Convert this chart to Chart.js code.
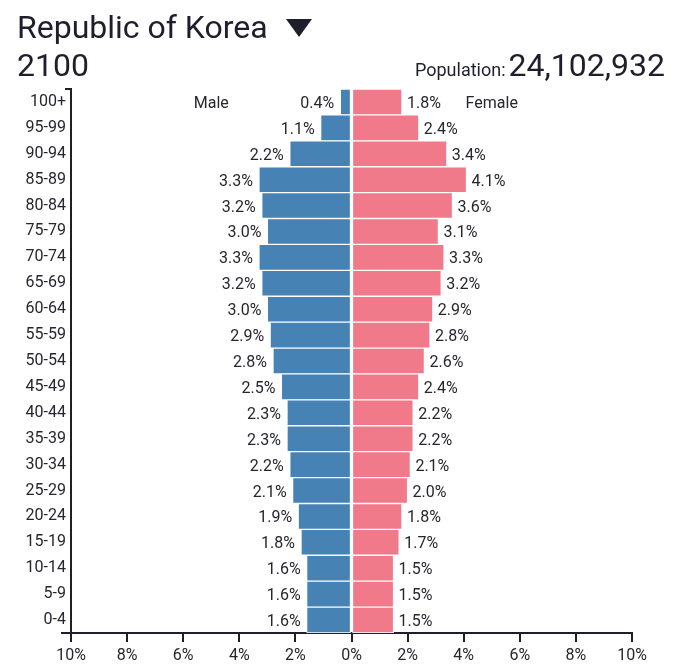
<!DOCTYPE html>
<html>
<head>
<meta charset="utf-8">
<script src="https://cdn.jsdelivr.net/npm/chart.js@4.4.1/dist/chart.umd.min.js"></script>
<style>
  html, body { margin: 0; padding: 0; background: #fff; }
  #wrap { position: relative; width: 680px; height: 671px; font-family: Roboto, sans-serif; color: #1e1e2c; }
  #chart { position: absolute; left: 0; top: 0; }
  .hdr { position: absolute; white-space: nowrap; line-height: 1; }
  #title { left: 17px; top: 11px; font-size: 32px; }
  #title .tri { display: inline-block; width: 0; height: 0; margin-left: 18px; vertical-align: top; margin-top: 8px;
    border-left: 13.5px solid transparent; border-right: 13.5px solid transparent; border-top: 18px solid #1e1e2c; }
  #year { left: 17px; top: 49px; font-size: 32px; }
  #pop { right: 15px; top: 49px; font-size: 32px; }
  #pop .lbl { font-size: 18px; margin-right: 3px; }
</style>
</head>
<body>
<div id="wrap">
  <canvas id="chart" width="680" height="671"></canvas>
  <div class="hdr" id="title">Republic of Korea<span class="tri"></span></div>
  <div class="hdr" id="year">2100</div>
  <div class="hdr" id="pop"><span class="lbl">Population:</span>24,102,932</div>
</div>
<script>
// Age groups, top row first
const ageGroups = ['100+', '95-99', '90-94', '85-89', '80-84', '75-79', '70-74', '65-69', '60-64', '55-59',
  '50-54', '45-49', '40-44', '35-39', '30-34', '25-29', '20-24', '15-19', '10-14', '5-9', '0-4']

// Share of total population (%)
const malePct = [0.4, 1.1, 2.2, 3.3, 3.2, 3.0, 3.3, 3.2, 3.0, 2.9, 2.8, 2.5, 2.3, 2.3, 2.2, 2.1, 1.9, 1.8, 1.6, 1.6, 1.6]
const femalePct = [1.8, 2.4, 3.4, 4.1, 3.6, 3.1, 3.3, 3.2, 2.9, 2.8, 2.6, 2.4, 2.2, 2.2, 2.1, 2.0, 1.8, 1.7, 1.5, 1.5, 1.5]

const xTicks = [-10, -8, -6, -4, -2, 0, 2, 4, 6, 8, 10]

const AXIS = '#1e1e2c'
const TEXT = '#26262e'
const FONT = 'Roboto, sans-serif'

// Value labels at the bar ends, plus Male / Female captions and axis extras
const pyramidLabels = {
  id: 'pyramidLabels',
  afterDatasetsDraw(chart) {
    const { ctx, chartArea, scales } = chart
    ctx.save()
    ctx.font = '16px ' + FONT
    ctx.fillStyle = TEXT
    ctx.textBaseline = 'middle'

    chart.getDatasetMeta(0).data.forEach((bar, i) => {
      ctx.textAlign = 'right'
      ctx.fillText(malePct[i].toFixed(1) + '%', bar.x - 6, bar.y + 2)
    })
    chart.getDatasetMeta(1).data.forEach((bar, i) => {
      ctx.textAlign = 'left'
      ctx.fillText(femalePct[i].toFixed(1) + '%', bar.x + 5, bar.y + 2)
    })

    // captions in the top row
    const topY = scales.y.getPixelForValue(0) + 2
    ctx.textAlign = 'center'
    ctx.fillText('Male', scales.x.getPixelForValue(-5), topY)
    ctx.fillText('Female', scales.x.getPixelForValue(5), topY)

    // outer ticks of the axes
    ctx.strokeStyle = AXIS
    ctx.lineWidth = 2
    ctx.beginPath()
    ctx.moveTo(chartArea.left - 6, chartArea.top)
    ctx.lineTo(chartArea.left + 1, chartArea.top)
    ctx.moveTo(chartArea.left - 10, chartArea.bottom)
    ctx.lineTo(chartArea.left, chartArea.bottom)
    ctx.stroke()
    ctx.restore()
  }
}

new Chart(document.getElementById('chart'), {
  type: 'bar',
  data: {
    labels: ageGroups,
    datasets: [
      {
        label: 'Male',
        data: malePct.map(v => -v),
        backgroundColor: '#4682b4',
        borderColor: '#ffffff',
        borderWidth: 1,
        borderSkipped: false
      },
      {
        label: 'Female',
        data: femalePct,
        backgroundColor: '#f07a8a',
        borderColor: '#ffffff',
        borderWidth: 1,
        borderSkipped: false
      }
    ]
  },
  options: {
    indexAxis: 'y',
    responsive: false,
    animation: false,
    devicePixelRatio: 1,
    barPercentage: 1,
    categoryPercentage: 1,
    layout: { padding: { top: 89, right: 48, bottom: 0, left: 0 } },
    plugins: {
      legend: { display: false },
      title: { display: false },
      tooltip: { enabled: false }
    },
    scales: {
      x: {
        stacked: true,
        min: -10,
        max: 10,
        afterBuildTicks: scale => { scale.ticks = xTicks.map(v => ({ value: v })) },
        afterFit: scale => { scale.height = 38 },
        ticks: {
          callback: v => Math.abs(v) + '%',
          font: { family: FONT, size: 16 },
          color: TEXT,
          padding: 4,
          maxRotation: 0
        },
        grid: {
          display: true,
          drawOnChartArea: false,
          drawTicks: true,
          tickLength: 9,
          lineWidth: 2,
          color: AXIS
        },
        border: { display: true, color: AXIS, width: 2 }
      },
      y: {
        stacked: true,
        afterFit: scale => { scale.width = 71 },
        ticks: {
          font: { family: FONT, size: 16 },
          color: TEXT,
          padding: 5
        },
        grid: { display: false, drawTicks: false },
        border: { display: true, color: AXIS, width: 2 }
      }
    }
  },
  plugins: [pyramidLabels]
})
</script>
</body>
</html>
